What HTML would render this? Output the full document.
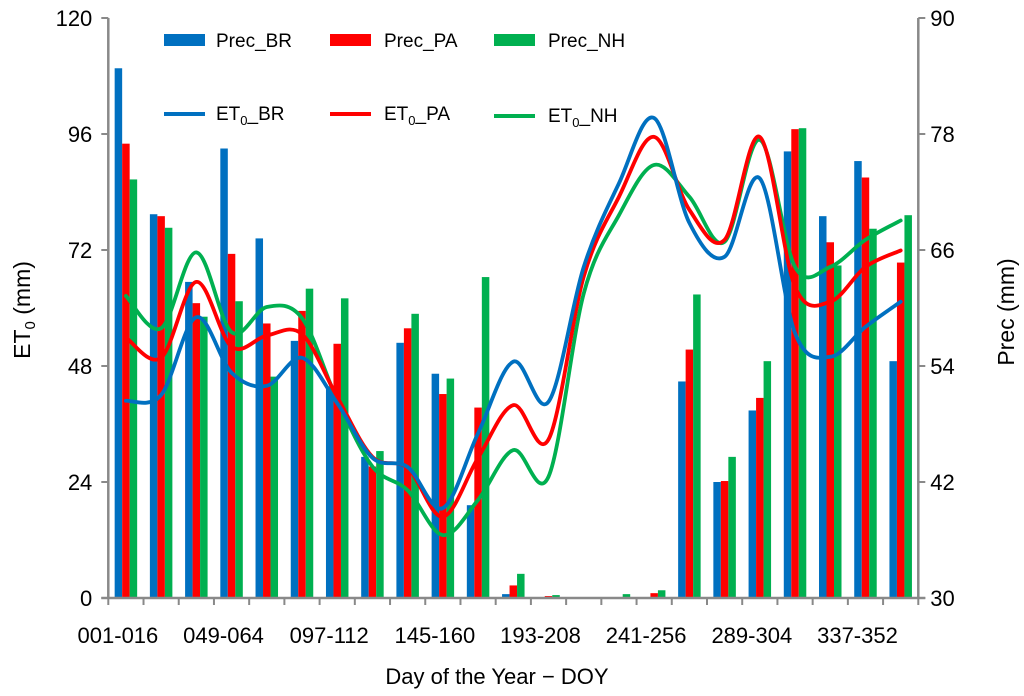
<!DOCTYPE html>
<html><head><meta charset="utf-8"><style>
body{margin:0;background:#fff;}
svg{display:block;font-family:"Liberation Sans",Arial,sans-serif;}
</style></head><body>
<svg id="chart" width="1024" height="696" viewBox="0 0 1024 696" xmlns="http://www.w3.org/2000/svg"></svg>
<script>
const categories = ["001-016","017-032","033-048","049-064","065-080","081-096","097-112","113-128","129-144","145-160","161-176","177-192","193-208","209-224","225-240","241-256","257-272","273-288","289-304","305-320","321-336","337-352","353-366"];
const tickLabelIdx = [0,3,6,9,12,15,18,21];
const leftTicks = [0,24,48,72,96,120];
const rightTicks = [30,42,54,66,78,90];
const precBR = [84.8,69.7,62.7,76.5,67.2,56.6,51.9,44.6,56.4,53.2,39.6,30.4,30.1,30,30,30,52.4,42.0,49.4,76.2,69.5,75.2,54.5];
const precPA = [77.0,69.5,60.5,65.6,58.4,59.7,56.3,43.6,57.9,51.1,49.7,31.3,30.2,30,30.1,30.5,55.7,42.1,50.7,78.5,66.8,73.5,64.7];
const precNH = [73.3,68.3,59.1,60.7,52.9,62.0,61.0,45.2,59.4,52.7,63.2,32.5,30.3,30.1,30.4,30.8,61.4,44.6,54.5,78.6,64.4,68.2,69.6];
const et0BR = [40.8,42.0,58.1,46.6,43.9,49.7,40.3,29.0,27.1,18.6,34.1,48.9,40.6,68.5,85.8,99.3,77.6,70.6,86.8,54.8,49.9,56.1,61.3];
const et0PA = [53.9,49.7,65.4,52.0,54.3,54.6,41.6,29.2,26.9,16.8,29.0,39.9,32.8,66.5,83.0,95.4,80.3,74.1,95.4,64.4,61.3,68.5,71.9];
const et0NH = [62.5,55.8,71.5,55.0,60.2,57.9,41.0,27.2,22.3,13.0,20.3,30.6,25.1,63.0,79.2,89.6,83.0,73.7,94.8,68.5,68.5,74.1,78.1];

const NS="http://www.w3.org/2000/svg";
const svg=document.getElementById('chart');
const X0=108.3,X1=918.3,Y0=598,Y1=18;
const step=(X1-X0)/categories.length;
function xC(i){return X0+step*(i+0.5);}
function yL(v){return Y0-(v-0)/120*(Y0-Y1);}
function yR(v){return Y0-(v-30)/60*(Y0-Y1);}
function mk(tag,attrs,parent){const e=document.createElementNS(NS,tag);for(const k in attrs)e.setAttribute(k,attrs[k]);(parent||svg).appendChild(e);return e;}

const colors={BR:"#0070C0",PA:"#FF0000",NH:"#00B050"};
const barG=mk('g',{});


const bw=7.5;
[[precBR,'BR',-1],[precPA,'PA',0],[precNH,'NH',1]].forEach(([arr,k,off])=>{
  arr.forEach((v,i)=>{
    const x=xC(i)+off*bw-bw/2, y=yR(v);
    const r=mk('rect',{x:x,y:y,width:bw,height:Math.max(0,Y0-y),fill:colors[k]},barG);
    
    
  });
});
function smoothPath(vals){
  const p=vals.map((v,i)=>[xC(i),yL(v)]);
  let d='M'+p[0][0]+','+p[0][1];
  for(let i=0;i<p.length-1;i++){
    const p0=p[i-1]||p[i],p1=p[i],p2=p[i+1],p3=p[i+2]||p[i+1];
    const c1=[p1[0]+(p2[0]-p0[0])/6,p1[1]+(p2[1]-p0[1])/6];
    const c2=[p2[0]-(p3[0]-p1[0])/6,p2[1]-(p3[1]-p1[1])/6];
    d+=' C'+c1+' '+c2+' '+p2;
  }
  return d;
}
[[et0NH,'NH'],[et0PA,'PA'],[et0BR,'BR']].forEach(([arr,k])=>{
  const l=mk('path',{d:smoothPath(arr),fill:'none',stroke:colors[k],'stroke-width':3.8,'stroke-linecap':'round'});
  
  
});
const ax='#898989';
mk('line',{x1:X0,y1:Y1,x2:X0,y2:Y0+1,stroke:ax,'stroke-width':2.5,});
mk('line',{x1:X1,y1:Y1,x2:X1,y2:Y0+1,stroke:ax,'stroke-width':2.5,});
mk('line',{x1:X0-7,y1:Y0,x2:X1+7,y2:Y0,stroke:ax,'stroke-width':2.5,});
leftTicks.forEach(v=>{
  const y=yL(v);
  mk('line',{x1:X0-7,y1:y,x2:X0,y2:y,stroke:ax,'stroke-width':2});
  const t=mk('text',{x:X0-16,y:y+8,'text-anchor':'end','font-size':22,fill:'#000'});
  t.textContent=v;
  
  
});
rightTicks.forEach(v=>{
  const y=yR(v);
  mk('line',{x1:X1,y1:y,x2:X1+7,y2:y,stroke:ax,'stroke-width':2});
  const t=mk('text',{x:X1+12,y:y+8,'text-anchor':'start','font-size':22,fill:'#000'});
  t.textContent=v;
  
  
});
for(let i=0;i<=categories.length;i++){
  const x=X0+step*i;
  mk('line',{x1:x,y1:Y0,x2:x,y2:Y0+7,stroke:ax,'stroke-width':2});
}
tickLabelIdx.forEach(i=>{
  const t=mk('text',{x:xC(i)-8,y:643,'text-anchor':'middle','font-size':22,fill:'#000'});
  t.textContent=categories[i];
  
  
});
const extra=`
<text x="497" y="684" text-anchor="middle" font-size="22">Day of the Year − DOY</text>
<text transform="translate(30,310) rotate(-90)" text-anchor="middle" font-size="23">ET<tspan font-size="15" dy="5">0</tspan><tspan dy="-5"> (mm)</tspan></text>
<text transform="translate(1014,312) rotate(-90)" text-anchor="middle" font-size="23">Prec (mm)</text>
<g font-size="19">
<g><rect x="164" y="34" width="41" height="12" fill="#0070C0"/><text x="216" y="47">Prec_BR</text></g>
<g><rect x="330" y="34" width="41" height="12" fill="#FF0000"/><text x="384" y="47">Prec_PA</text></g>
<g><rect x="494" y="34" width="41" height="12" fill="#00B050"/><text x="548" y="47">Prec_NH</text></g>
<g><line x1="164" y1="114" x2="205" y2="114" stroke="#0070C0" stroke-width="4"/><text x="216" y="120">ET<tspan font-size="13" dy="5">0</tspan><tspan dy="-5">_BR</tspan></text></g>
<g><line x1="330" y1="114" x2="371" y2="114" stroke="#FF0000" stroke-width="4"/><text x="384" y="120">ET<tspan font-size="13" dy="5">0</tspan><tspan dy="-5">_PA</tspan></text></g>
<g><line x1="494" y1="116" x2="535" y2="116" stroke="#00B050" stroke-width="4"/><text x="548" y="122">ET<tspan font-size="13" dy="5">0</tspan><tspan dy="-5">_NH</tspan></text></g>
</g>`;
svg.insertAdjacentHTML('beforeend',extra);
</script>
</body></html>
